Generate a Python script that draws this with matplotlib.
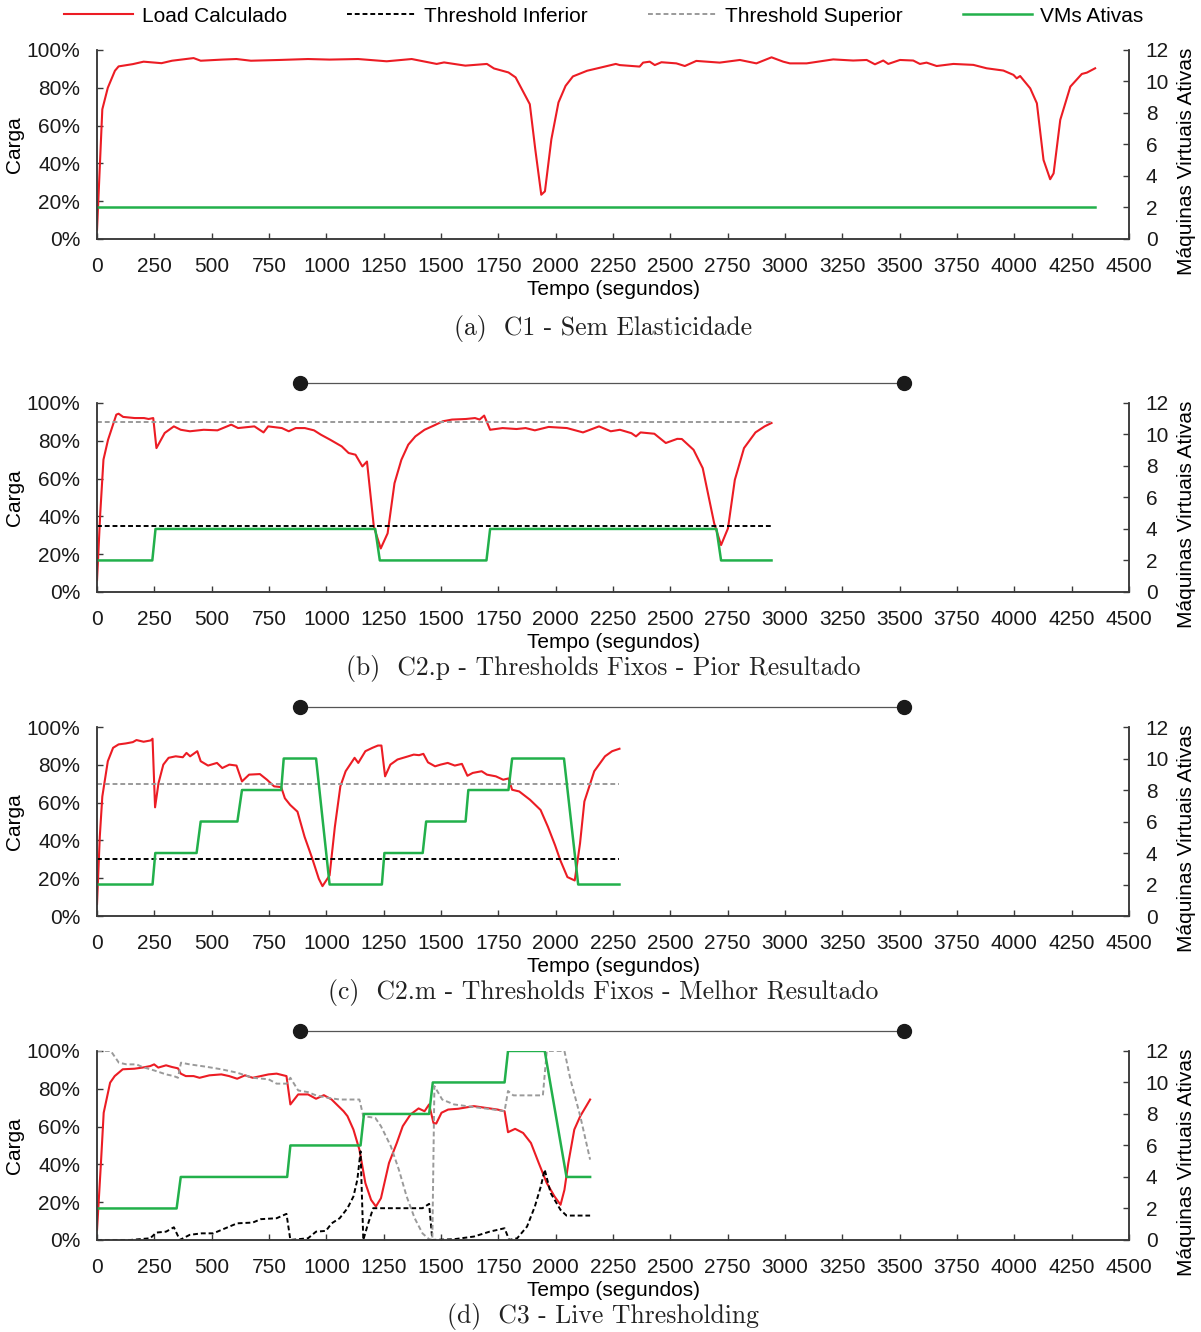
import matplotlib
matplotlib.use("Agg")
import matplotlib.pyplot as plt
from matplotlib.lines import Line2D

plt.rcParams['font.family'] = ['Liberation Sans', 'DejaVu Sans']

# ---- data ----
# (a) C1 - Sem Elasticidade
t_a = [0, 23, 47, 78, 94, 156, 203, 281, 327, 421, 452, 546, 608, 671, 795, 920, 1014,
       1138, 1263, 1372, 1481, 1513, 1606, 1700, 1731, 1794, 1825, 1887, 1911, 1937, 1953,
       1981, 2012, 2043, 2075, 2137, 2200, 2262, 2279, 2366, 2381, 2410, 2432, 2461, 2526,
       2563, 2613, 2715, 2803, 2875, 2941, 2992, 3021, 3094, 3210, 3297, 3356, 3392, 3428,
       3450, 3501, 3559, 3588, 3617, 3661, 3734, 3821, 3879, 3952, 3996, 4010, 4025, 4069,
       4098, 4127, 4156, 4171, 4200, 4244, 4294, 4316, 4352]
load_a = [4.8, 68.6, 80, 89, 91.3, 92.5, 93.8, 93, 94.3, 95.7, 94.3, 94.9, 95.2, 94.3, 94.7,
          95.2, 94.9, 95.2, 94, 95.2, 92.6, 93.4, 91.7, 92.6, 90.2, 88.1, 85.5, 71.3, 47.3,
          23.4, 25.2, 52.7, 72.2, 81, 86, 89, 90.8, 92.6, 92, 91.2, 93.3, 93.8, 92, 93.5, 92.9,
          91.5, 94.2, 93.3, 94.7, 92.9, 96.1, 93.8, 92.9, 92.9, 95, 94.4, 94.7, 92.4, 94.4,
          92.6, 94.7, 94.4, 92.6, 93.3, 91.5, 92.6, 92.1, 90.3, 89.1, 86.8, 85, 86.2, 79.7,
          71.8, 41.8, 31.6, 34.7, 63, 80.6, 87.3, 88, 90.3]
vm_t_a = [0, 4352]
vm_a = [2, 2]

# (b) C2.p - Thresholds Fixos - Pior Resultado
t_b = [0, 14, 28, 48, 84, 94, 114, 164, 205, 225, 245, 259, 295, 335, 365, 405, 465, 525,
       585, 615, 686, 726, 746, 806, 836, 866, 906, 946, 976, 1017, 1067, 1097, 1127, 1157,
       1177, 1207, 1237, 1267, 1297, 1327, 1357, 1388, 1428, 1468, 1508, 1548, 1608, 1648,
       1668, 1688, 1714, 1768, 1829, 1869, 1909, 1969, 2049, 2119, 2189, 2240, 2280, 2330,
       2350, 2370, 2430, 2480, 2530, 2550, 2601, 2641, 2691, 2721, 2751, 2781, 2821, 2871,
       2911, 2941]
load_b = [6.2, 41.6, 70, 80.5, 93.8, 94.3, 92.6, 92, 92, 91.5, 92, 76.1, 84.1, 87.6, 85.8,
          85, 85.8, 85.5, 88.5, 86.7, 87.6, 84.4, 87.6, 86.7, 85, 86.7, 86.7, 85.5, 83.2,
          80.5, 77, 73.5, 72.6, 66.4, 69, 34.5, 23, 31, 57.5, 69.9, 77.9, 82.3, 85.8, 88,
          90.3, 91.2, 91.5, 92, 91.2, 93.3, 85.8, 86.7, 86.2, 86.7, 85.5, 87.3, 86.7, 84.4,
          87.6, 85, 85.8, 84, 82.3, 84.4, 83.7, 78.8, 81, 80.9, 75.2, 65.5, 36.3, 24.8, 33.6,
          59.3, 76.1, 84.4, 87.6, 89.4]
thr_t_b = [0, 2941]
thr_inf_b = [35, 35]
thr_sup_b = [90, 90]
vm_t_b = [0, 241, 255, 1213, 1233, 1698, 1714, 2701, 2721, 2941]
vm_b = [2, 2, 4, 4, 2, 2, 4, 4, 2, 2]

# (c) C2.m - Thresholds Fixos - Melhor Resultado
t_c = [0, 12, 23, 47, 70, 94, 125, 156, 172, 203, 234, 242, 253, 268, 289, 312, 343, 374,
       390, 406, 437, 452, 484, 523, 546, 577, 608, 632, 663, 710, 741, 772, 803, 819, 842,
       874, 905, 936, 967, 983, 1014, 1037, 1061, 1084, 1123, 1139, 1170, 1201, 1225, 1240,
       1256, 1279, 1310, 1357, 1381, 1404, 1423, 1443, 1474, 1498, 1529, 1560, 1591, 1615,
       1638, 1677, 1700, 1739, 1771, 1794, 1810, 1841, 1888, 1934, 1966, 1997, 2020, 2051,
       2083, 2106, 2125, 2168, 2215, 2246, 2278]
load_c = [6.4, 42, 63.2, 81.9, 89, 90.8, 91.3, 92, 93.1, 92.2, 92.9, 93.8, 57.5, 70.3,
          80.1, 83.7, 84.5, 84, 86.3, 84.5, 87.2, 81.9, 79.6, 81, 78.3, 80.1, 79.6, 71.2,
          74.8, 75.1, 72.1, 68.6, 68.2, 62.3, 58.8, 55.2, 41.9, 31.3, 19.7, 15.8, 21.5, 47.2,
          68.6, 76.6, 83.7, 81, 87.2, 89, 90.2, 90.2, 73.9, 80.1, 82.8, 84.5, 85.4, 85.1,
          85.8, 81.3, 79.2, 80.1, 81, 79.6, 80.5, 74.2, 75.7, 76.6, 74.8, 73.9, 72.1, 72.8,
          66.8, 65.9, 61.5, 56.1, 47.2, 37.5, 29.5, 20.6, 18.8, 38.4, 60.6, 76.6, 84.5, 87.2,
          88.5]
thr_t_c = [0, 2278]
thr_inf_c = [30, 30]
thr_sup_c = [70, 70]
vm_t_c = [0, 242, 254, 434, 452, 612, 632, 803, 814, 955, 1014, 1242, 1253, 1420, 1435,
          1607, 1619, 1794, 1810, 2036, 2098, 2278]
vm_c = [2, 2, 4, 4, 6, 6, 8, 8, 10, 10, 2, 2, 4, 4, 6, 6, 8, 8, 10, 10, 2, 2]

# (d) C3 - Live Thresholding
t_d = [0, 17, 29, 57, 77, 112, 163, 198, 232, 249, 267, 301, 327, 353, 365, 387, 421, 447,
       490, 542, 576, 611, 645, 679, 748, 783, 826, 843, 877, 920, 955, 989, 1023, 1049,
       1075, 1092, 1118, 1144, 1170, 1195, 1216, 1238, 1273, 1307, 1333, 1367, 1402, 1428,
       1448, 1467, 1479, 1502, 1531, 1574, 1643, 1694, 1746, 1777, 1792, 1823, 1858, 1892,
       1926, 1961, 1995, 2021, 2038, 2055, 2081, 2107, 2133, 2150]
load_d = [5.3, 40.7, 67.3, 83.2, 86.7, 90.3, 90.6, 91.2, 92, 92.9, 91.2, 92.4, 91.5, 90.8,
          88, 86.7, 86.7, 85.8, 87.1, 87.6, 86.7, 85.3, 87.1, 85.8, 87.6, 88, 86.7, 71.7, 77,
          77, 74.7, 76.6, 74.3, 71.2, 68.1, 65.5, 58.4, 47.8, 30.1, 21.2, 17.7, 22.1, 40.7,
          51.3, 60.2, 66.4, 69.6, 68.1, 71.7, 61.9, 61.6, 67.3, 69, 69.4, 70.8, 69.9, 69,
          68.1, 57, 58.8, 56.6, 51.3, 40.7, 30.1, 23, 18.6, 26.5, 40.7, 58.4, 65.5, 70.8, 74.3]
sup_t_d = [0, 60, 95, 129, 172, 198, 249, 301, 335, 353, 366, 404, 473, 542, 611, 679, 748,
           783, 826, 843, 877, 920, 955, 1006, 1058, 1144, 1161, 1213, 1238, 1281, 1316, 1350,
           1385, 1419, 1448, 1462, 1471, 1505, 1557, 1643, 1729, 1777, 1792, 1815, 1884, 1944,
           1961, 2038, 2064, 2107, 2150]
sup_d = [100, 100, 93.8, 92.9, 92.9, 91.5, 89.7, 87.6, 86.7, 85.8, 93.8, 92.9, 91.7, 90.3,
         88.5, 85.8, 85, 82.7, 82.7, 85.8, 79.1, 78.2, 76.5, 75.2, 74.3, 74.3, 65.5, 64.6,
         60.2, 49.6, 37.2, 23, 11.5, 3.5, 0.4, 0, 81.4, 74.3, 71.7, 70.3, 69, 68.1, 78.8,
         76.5, 76.5, 76.5, 100, 100, 85, 65.5, 42.5]
inf_t_d = [0, 146, 232, 258, 301, 335, 361, 404, 456, 507, 542, 611, 679, 714, 783, 826,
           843, 920, 955, 998, 1023, 1058, 1092, 1118, 1135, 1149, 1161, 1178, 1204, 1299,
           1419, 1448, 1462, 1557, 1643, 1712, 1777, 1797, 1832, 1875, 1909, 1935, 1952, 1978,
           2021, 2047, 2150]
inf_d = [0, 0, 0.9, 3.9, 4.4, 6.7, 0, 2.7, 3.5, 3.5, 5.3, 8.8, 9.2, 11, 11.5, 13.8, 0, 0.9,
         4.4, 4.8, 8.8, 11.5, 16.8, 23, 31.9, 46.9, 0, 7.1, 16.8, 16.8, 16.8, 19.1, 0, 0.4,
         1.8, 4.4, 6.2, 0, 0.9, 7.1, 17.7, 28.3, 37.2, 24.8, 15.9, 12.9, 12.9]
vm_t_d = [0, 347, 365, 829, 843, 1149, 1164, 1448, 1464, 1777, 1792, 1952, 2047, 2150]
vm_d = [2, 2, 4, 4, 6, 6, 8, 8, 10, 10, 12, 12, 4, 4]

captions = ["(a)  C1 - Sem Elasticidade",
            "(b)  C2.p - Thresholds Fixos - Pior Resultado",
            "(c)  C2.m - Thresholds Fixos - Melhor Resultado",
            "(d)  C3 - Live Thresholding"]
x_ticks = list(range(0, 4501, 250))
y_ticks = [0, 20, 40, 60, 80, 100]
y_labels = ["0%", "20%", "40%", "60%", "80%", "100%"]
vm_ticks = [0, 2, 4, 6, 8, 10, 12]

RED = "#ec1c24"
GREEN = "#22b04b"
GRAY = "#9a9a9a"
SPINE = "#3a3a3a"
DASH = (0, (2.5, 1.5))
FS = 15

fig = plt.figure(figsize=(12.01, 13.32), dpi=100)
bottoms = [0.8206, 0.5556, 0.3123, 0.0691]
cap_y = [1332 - 329, 1332 - 668, 1332 - 992, 1332 - 1316]

panels = [
    (t_a, load_a, None, None, None, None, vm_t_a, vm_a),
    (t_b, load_b, thr_t_b, thr_inf_b, thr_t_b, thr_sup_b, vm_t_b, vm_b),
    (t_c, load_c, thr_t_c, thr_inf_c, thr_t_c, thr_sup_c, vm_t_c, vm_c),
    (t_d, load_d, inf_t_d, inf_d, sup_t_d, sup_d, vm_t_d, vm_d),
]

for i, (tl, ld, ti, yi, ts, ys, tv, vv) in enumerate(panels):
    ax = fig.add_axes([0.0808, bottoms[i], 0.8593, 0.1419])
    ax2 = ax.twinx()
    ax.plot(tl, ld, color=RED, lw=1.5, label="Load Calculado")
    if ti is not None:
        ax.plot(ti, yi, color="black", lw=1.4, ls=DASH, label="Threshold Inferior")
        ax.plot(ts, ys, color=GRAY, lw=1.4, ls=DASH, label="Threshold Superior")
    ax2.plot(tv, vv, color=GREEN, lw=1.8, label="VMs Ativas")

    ax.set_xlim(0, 4500)
    ax.set_ylim(0, 100)
    ax2.set_ylim(0, 12)
    ax.set_xticks(x_ticks)
    ax.set_yticks(y_ticks)
    ax.set_yticklabels(y_labels)
    ax2.set_yticks(vm_ticks)
    for a in (ax, ax2):
        a.spines['top'].set_visible(False)
        for s in a.spines.values():
            s.set_color(SPINE)
            s.set_linewidth(1.1)
        a.tick_params(direction='in', length=4.5, width=1.0, color=SPINE,
                      labelsize=FS, pad=12, labelcolor="#1a1a1a")
    ax.tick_params(axis='x', pad=13)
    ax.set_xlabel("Tempo (segundos)", fontsize=FS, labelpad=3)
    ax.set_ylabel("Carga", fontsize=FS, labelpad=2)
    ax2.set_ylabel("Máquinas Virtuais Ativas", fontsize=FS)
    ax2.yaxis.set_label_coords(1.0467, 0.41)

    if i > 0:
        # decorative bar above the panel
        ax.plot([885, 3519], [110.6, 110.6], color="#555555", lw=0.9,
                clip_on=False)
        ax.plot([885, 3519], [110.6, 110.6], 'o', color="#1a1a1a", ms=10,
                clip_on=False)

    fig.text(0.502, cap_y[i] / 1332, captions[i], family='cmr10', fontsize=18.5,
             ha='center', va='center', color="#222222")

handles = [Line2D([], [], color=RED, lw=1.5),
           Line2D([], [], color="black", lw=1.4, ls=DASH),
           Line2D([], [], color=GRAY, lw=1.4, ls=DASH),
           Line2D([], [], color=GREEN, lw=1.8)]
fig.legend(handles, ["Load Calculado", "Threshold Inferior", "Threshold Superior",
                     "VMs Ativas"],
           loc='center', bbox_to_anchor=(0.503, 1 - 16 / 1332), ncol=4, frameon=False,
           fontsize=FS, handlelength=3.3, handletextpad=0.4, columnspacing=2.9)

fig.savefig("out.png", dpi=100)
